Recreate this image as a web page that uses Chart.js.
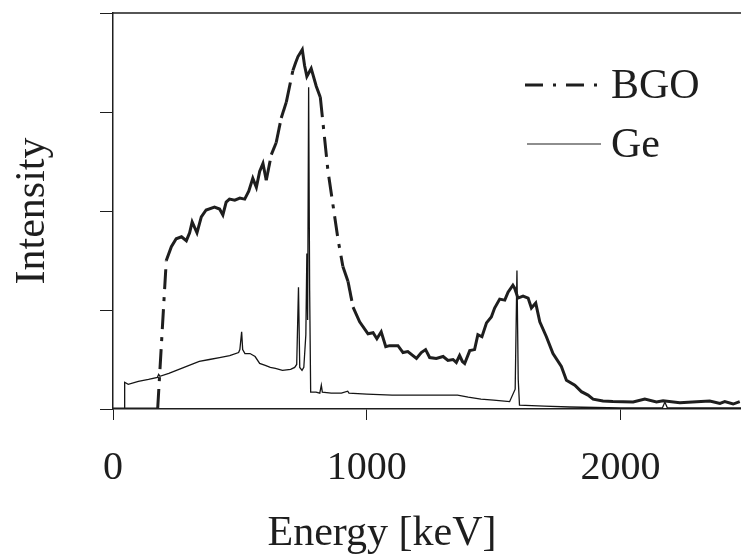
<!DOCTYPE html>
<html>
<head>
<meta charset="utf-8">
<script src="https://cdn.jsdelivr.net/npm/chart.js@4/dist/chart.umd.min.js"></script>
<style>
  html, body { margin: 0; padding: 0; background: #fff; }
  canvas { display: block; }
</style>
</head>
<body>
<canvas id="spectrum" width="741" height="554"></canvas>
<script>
const ctx = document.getElementById('spectrum').getContext('2d');

// Ge detector spectrum (thin line)
const geEnergy = [0, 44, 46, 60, 100, 140, 175, 180, 185, 220, 260, 300, 340, 380, 420, 460, 495, 500, 507, 511,
    520, 540, 560, 578, 600, 620, 640, 668, 700, 716, 724, 731, 736, 745, 752, 760, 764, 767, 771, 775,
    779, 800, 815, 821, 825, 860, 900, 925, 930, 1000, 1100, 1200, 1300, 1358, 1400, 1450, 1500, 1563,
    1585, 1592, 1597, 1602, 1700, 1800, 1900, 2000, 2100, 2165, 2175, 2185, 2300, 2475];
const geCounts = [0, 0, 0.27, 0.25, 0.28, 0.30, 0.32, 0.35, 0.33, 0.36, 0.40, 0.44, 0.48, 0.50, 0.52, 0.54, 0.57, 0.60, 0.78, 0.60,
    0.56, 0.56, 0.53, 0.46, 0.44, 0.42, 0.41, 0.39, 0.40, 0.42, 0.45, 1.23, 0.42, 0.39, 0.42, 0.75, 1.57, 0.90, 3.25, 1.2,
    0.17, 0.17, 0.16, 0.24, 0.17, 0.16, 0.16, 0.18, 0.16, 0.15, 0.14, 0.14, 0.14, 0.14, 0.12, 0.10, 0.09, 0.074,
    0.2, 1.40, 0.3, 0.04, 0.03, 0.02, 0.015, 0.01, 0.01, 0.01, 0.07, 0.01, 0.01, 0.01];

// BGO detector spectrum (thick dash-dot line)
const bgoEnergy = [0, 176, 210, 230, 249, 270, 289, 302, 312, 331, 348, 367, 400, 420, 433, 446, 459, 480, 500, 519,
    535, 551, 565, 578, 591, 604, 624, 643, 663, 683, 709, 720, 729, 746, 755, 764, 781, 801, 817, 847,
    887, 906, 926, 946, 972, 1005, 1025, 1040, 1057, 1075, 1090, 1123, 1143, 1162, 1196, 1215, 1232, 1248,
    1274, 1301, 1320, 1340, 1353, 1366, 1377, 1386, 1406, 1425, 1438, 1454, 1472, 1491, 1504, 1524, 1544,
    1557, 1576, 1583, 1596, 1616, 1636, 1649, 1666, 1682, 1708, 1734, 1767, 1787, 1820, 1846, 1872, 1892,
    1931, 1970, 2010, 2050, 2096, 2142, 2168, 2234, 2300, 2352, 2392, 2411, 2444, 2470];
const bgoCounts = [0, 0, 1.5, 1.64, 1.72, 1.74, 1.70, 1.78, 1.89, 1.78, 1.94, 2.01, 2.04, 2.02, 1.96, 2.09, 2.12, 2.11, 2.13, 2.12,
    2.20, 2.33, 2.24, 2.40, 2.48, 2.31, 2.57, 2.69, 2.94, 3.10, 3.42, 3.50, 3.56, 3.63, 3.47, 3.36, 3.44, 3.26, 3.15, 2.41,
    1.71, 1.44, 1.29, 1.03, 0.88, 0.76, 0.77, 0.71, 0.78, 0.63, 0.64, 0.64, 0.57, 0.58, 0.51, 0.57, 0.60, 0.52,
    0.51, 0.53, 0.49, 0.50, 0.47, 0.54, 0.48, 0.46, 0.59, 0.60, 0.75, 0.73, 0.87, 0.93, 1.02, 1.11, 1.10,
    1.18, 1.25, 1.22, 1.12, 1.14, 1.12, 1.02, 1.07, 0.88, 0.73, 0.56, 0.43, 0.29, 0.24, 0.175, 0.14, 0.10,
    0.08, 0.075, 0.074, 0.07, 0.10, 0.07, 0.084, 0.064, 0.074, 0.08, 0.057, 0.074, 0.05, 0.074];

const xTicks = [0, 1000, 2000];
const seriesNames = ['BGO', 'Ge'];
const xTitle = 'Energy [keV]';

const ink = '#1e1e1e';
const serif = '"Liberation Serif", "Times New Roman", serif';
const bgoDash = [20, 8, 4, 8];

function toPoints(xs, ys) {
    return xs.map((x, i) => ({ x: x, y: ys[i] }));
}

// the original plot only shows the dash pattern on the long, steep pieces
function steepDash(c) {
    return Math.abs(c.p1.y - c.p0.y) > 20 ? bgoDash : undefined;
}

const frameAndLegend = {
    id: 'frameAndLegend',
    afterDraw(chart) {
        const a = chart.chartArea;
        const g = chart.ctx;
        g.save();
        g.strokeStyle = ink;
        g.lineWidth = 1.5;
        g.beginPath();
        g.moveTo(a.left, a.top);
        g.lineTo(a.right, a.top);
        g.stroke();

        // legend
        g.lineWidth = 3;
        g.setLineDash([18, 10, 3, 10]);
        g.beginPath();
        g.moveTo(525, 85);
        g.lineTo(601, 85);
        g.stroke();
        g.setLineDash([]);
        g.lineWidth = 1.2;
        g.beginPath();
        g.moveTo(527, 144);
        g.lineTo(601, 144);
        g.stroke();

        g.fillStyle = ink;
        g.font = '42px ' + serif;
        g.textBaseline = 'alphabetic';
        g.textAlign = 'left';
        g.fillText(seriesNames[0], 611, 98);
        g.fillText(seriesNames[1], 611, 157);

        // x axis title sits a little left of the plot centre in the original
        g.textAlign = 'center';
        g.fillText(xTitle, 382, 545);
        g.restore();
    }
};

const myChart = new Chart(ctx, {
    type: 'scatter',
    data: {
        datasets: [{
            label: seriesNames[0],
            data: toPoints(bgoEnergy, bgoCounts),
            showLine: true,
            borderColor: ink,
            borderWidth: 3,
            borderDash: [],
            pointRadius: 0,
            tension: 0,
            segment: {
                borderDash: steepDash
            }
        }, {
            label: seriesNames[1],
            data: toPoints(geEnergy, geCounts),
            showLine: true,
            borderColor: '#151515',
            borderWidth: 1.3,
            pointRadius: 0,
            tension: 0
        }]
    },
    options: {
        responsive: false,
        animation: false,
        layout: {
            padding: { top: 13, right: 0, left: 0, bottom: 0 }
        },
        scales: {
            x: {
                type: 'linear',
                min: 0,
                max: 2475,
                afterFit: s => { s.height = 145; },
                afterBuildTicks: s => { s.ticks = xTicks.map(v => ({ value: v })); },
                border: { color: ink, width: 1.5 },
                grid: {
                    drawOnChartArea: false,
                    drawTicks: true,
                    tickLength: 11,
                    color: ink
                },
                ticks: {
                    color: ink,
                    padding: 24,
                    maxRotation: 0,
                    font: { family: serif, size: 40 },
                    callback: v => String(v)
                },
                title: { display: false }
            },
            y: {
                min: 0,
                max: 4,
                afterFit: s => { s.width = 113; },
                border: { color: ink, width: 1.5 },
                grid: {
                    drawOnChartArea: false,
                    drawTicks: true,
                    tickLength: 13,
                    color: ink
                },
                ticks: {
                    stepSize: 1,
                    callback: () => ''
                },
                title: {
                    display: true,
                    text: 'Intensity',
                    color: ink,
                    padding: { top: 8, bottom: 0 },
                    font: { family: serif, size: 42 }
                }
            }
        },
        plugins: {
            legend: { display: false },
            tooltip: { enabled: false }
        }
    },
    plugins: [frameAndLegend]
});
</script>
</body>
</html>
